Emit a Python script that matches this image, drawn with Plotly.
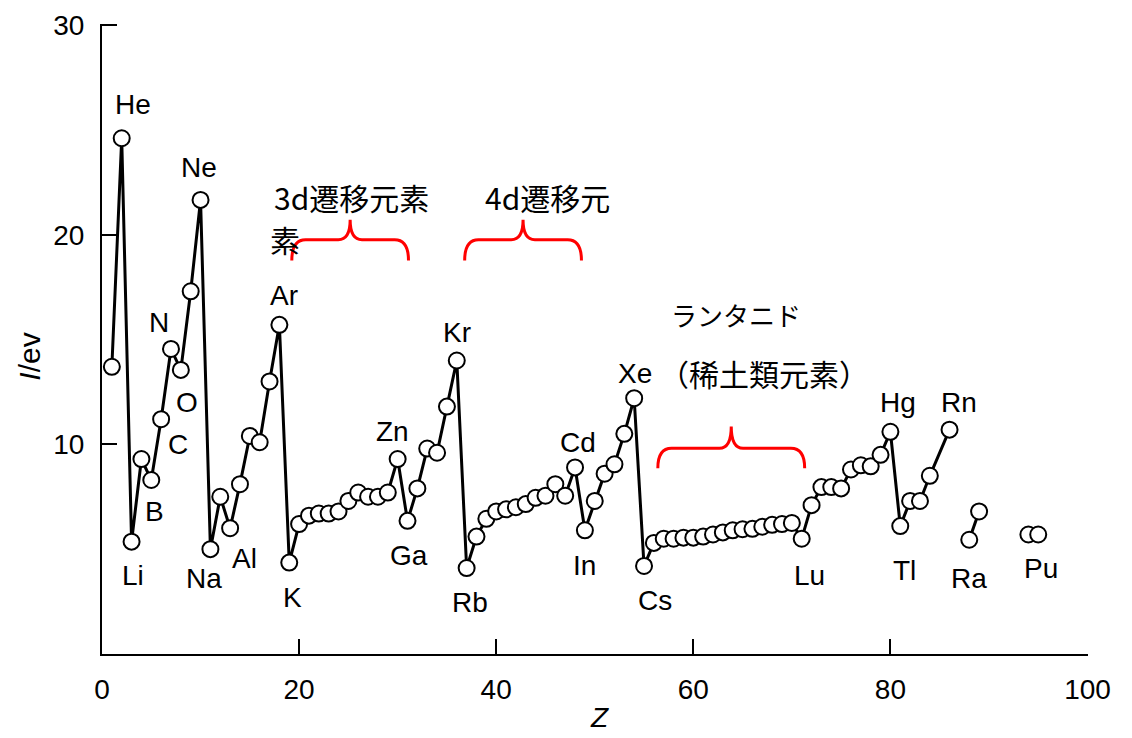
import plotly.graph_objects as go

# ---------------- data ----------------
# atomic number Z and first ionization energy I (eV); None = break in line
z_values = [1, 2, 3, 4, 5, 6, 7, 8, 9, 10,
            11, 12, 13, 14, 15, 16, 17, 18,
            19, 20, 21, 22, 23, 24, 25, 26, 27, 28, 29, 30, 31, 32, 33, 34, 35, 36,
            37, 38, 39, 40, 41, 42, 43, 44, 45, 46, 47, 48, 49, 50, 51, 52, 53, 54,
            55, 56, 57, 58, 59, 60, 61, 62, 63, 64, 65, 66, 67, 68, 69, 70, 71,
            72, 73, 74, 75, 76, 77, 78, 79, 80, 81, 82, 83, 84, 86,
            87, 88, 89, 90, 94, 95]
i_values = [13.7, 24.6, 5.36, 9.3, 8.3, 11.2, 14.55, 13.55, 17.3, 21.66,
            5.0, 7.5, 6.0, 8.1, 10.4, 10.1, 13.0, 15.7,
            4.36, 6.2, 6.6, 6.7, 6.7, 6.8, 7.3, 7.7, 7.5, 7.5, 7.7, 9.3, 6.35, 7.9, 9.8, 9.6, 11.8, 14.0,
            4.1, 5.6, 6.45, 6.8, 6.9, 7.0, 7.15, 7.45, 7.55, 8.1, 7.55, 8.9, 5.9, 7.3, 8.6, 9.05, 10.5, 12.2,
            4.2, 5.3, 5.5, 5.5, 5.55, 5.55, 5.6, 5.7, 5.8, 5.9, 5.95, 5.97, 6.07, 6.16, 6.2, 6.25, 5.5,
            7.1, 7.96, 7.96, 7.9, 8.8, 9.0, 8.95, 9.5, 10.6, 6.1, 7.3, 7.3, 8.5, 10.7,
            None, 5.45, 6.8, None, 5.7, 5.7]

# element labels: (text, Z position, I position)
label_text = ["He", "Ne", "H", "N", "O", "C", "B", "Li", "Na", "Al", "Ar", "K",
              "Zn", "Ga", "Kr", "Rb", "Cd", "In", "Xe", "Cs", "Lu", "Hg", "Tl",
              "Rn", "Ra", "Pu"]
label_x = [3.1, 9.8, -2.6, 5.8, 8.6, 7.7, 5.3, 3.1, 10.4, 14.5, 18.5, 19.3,
           29.5, 31.2, 36.0, 37.3, 48.3, 48.95, 54.1, 56.1, 71.8, 80.8, 81.4,
           87.0, 88.0, 95.3]
label_y = [26.2, 23.2, 13.7, 15.8, 12.0, 10.0, 6.8, 3.74, 3.6, 4.55, 17.1, 2.7,
           10.6, 4.7, 15.35, 2.46, 10.1, 4.2, 13.4, 2.56, 3.74, 12.0, 4.0,
           12.0, 3.6, 4.1]

x_ticks = [0, 20, 40, 60, 80, 100]
y_ticks = [10, 20, 30]

# group braces: (left Z, right Z, end I, bar I, peak I)
braces = [(19.26, 31.1, 18.77, 19.76, 20.71),
          (36.8, 48.65, 18.77, 19.76, 20.71),
          (56.4, 71.3, 8.86, 9.81, 10.85)]

# group texts: (text, Z, I center, size, anchor)
group_text = [("3d遷移元素", 25.3, 21.8, 30, "center"),
              ("素", 16.8, 19.8, 30, "left"),
              ("4d遷移元", 45.2, 21.8, 30, "center"),
              ("ランタニド", 64.3, 16.2, 26, "center"),
              ("（稀土類元素）", 67.2, 13.4, 30, "center")]

LAT = "Liberation Sans, Arial, Helvetica, sans-serif"
JP = "Noto Sans CJK JP, sans-serif"

fig = go.Figure()
fig.add_trace(go.Scatter(
    x=z_values, y=i_values, mode="lines+markers",
    line=dict(color="black", width=3),
    marker=dict(symbol="circle", size=16, color="white",
                line=dict(color="black", width=2)),
    connectgaps=False, cliponaxis=False, showlegend=False,
    hoverinfo="x+y"))

annotations = []
for t, x, y in zip(label_text, label_x, label_y):
    annotations.append(dict(x=x, y=y, xref="x", yref="y", text=t,
                            showarrow=False, font=dict(family=LAT, size=28, color="black"),
                            xanchor="center", yanchor="middle"))
for t, x, y, s, a in group_text:
    annotations.append(dict(x=x, y=y, xref="x", yref="y", text=t,
                            showarrow=False, font=dict(family=JP, size=s, color="black"),
                            xanchor=a, yanchor="middle"))
annotations.append(dict(x=-0.073, y=0.472, xref="paper", yref="paper",
                        text="<i>I</i>/ev", textangle=-90, showarrow=False,
                        font=dict(family=LAT, size=30, color="black"),
                        xanchor="center", yanchor="middle"))
annotations.append(dict(x=50.5, y=-0.101, xref="x", yref="paper",
                        text="<i>Z</i>", showarrow=False,
                        font=dict(family=LAT, size=28, color="black"),
                        xanchor="center", yanchor="middle"))

shapes = []
for x0, x1, yb, yh, yp in braces:
    xm = (x0 + x1) / 2
    r, rc = 1.4, 1.2
    path = (f"M {x0},{yb} Q {x0},{yh} {x0 + r},{yh} L {xm - rc},{yh} "
            f"Q {xm},{yh} {xm},{yp} Q {xm},{yh} {xm + rc},{yh} "
            f"L {x1 - r},{yh} Q {x1},{yh} {x1},{yb}")
    shapes.append(dict(type="path", path=path, xref="x", yref="y",
                       line=dict(color="#ff0000", width=3)))

fig.update_layout(
    width=1124, height=730,
    margin=dict(l=94, r=44, t=16, b=84),
    paper_bgcolor="white", plot_bgcolor="white",
    annotations=annotations, shapes=shapes,
    xaxis=dict(range=[0, 100.05], tickvals=x_ticks, ticktext=[str(v) for v in x_ticks],
               showgrid=False, zeroline=False, showline=True, linecolor="black",
               linewidth=2, ticks="inside", ticklen=15, tickwidth=2, tickcolor="black",
               tickfont=dict(family=LAT, size=28, color="black"),
               ticklabelstandoff=9, automargin=False, ticklabeloverflow="allow"),
    yaxis=dict(range=[0, 30.05], tickvals=y_ticks, ticktext=[str(v) for v in y_ticks],
               showgrid=False, zeroline=False, showline=True, linecolor="black",
               linewidth=2, ticks="inside", ticklen=15, tickwidth=2, tickcolor="black",
               tickfont=dict(family=LAT, size=28, color="black"),
               ticklabelstandoff=10, automargin=False, ticklabeloverflow="allow"),
)

fig.write_html("out.html")
